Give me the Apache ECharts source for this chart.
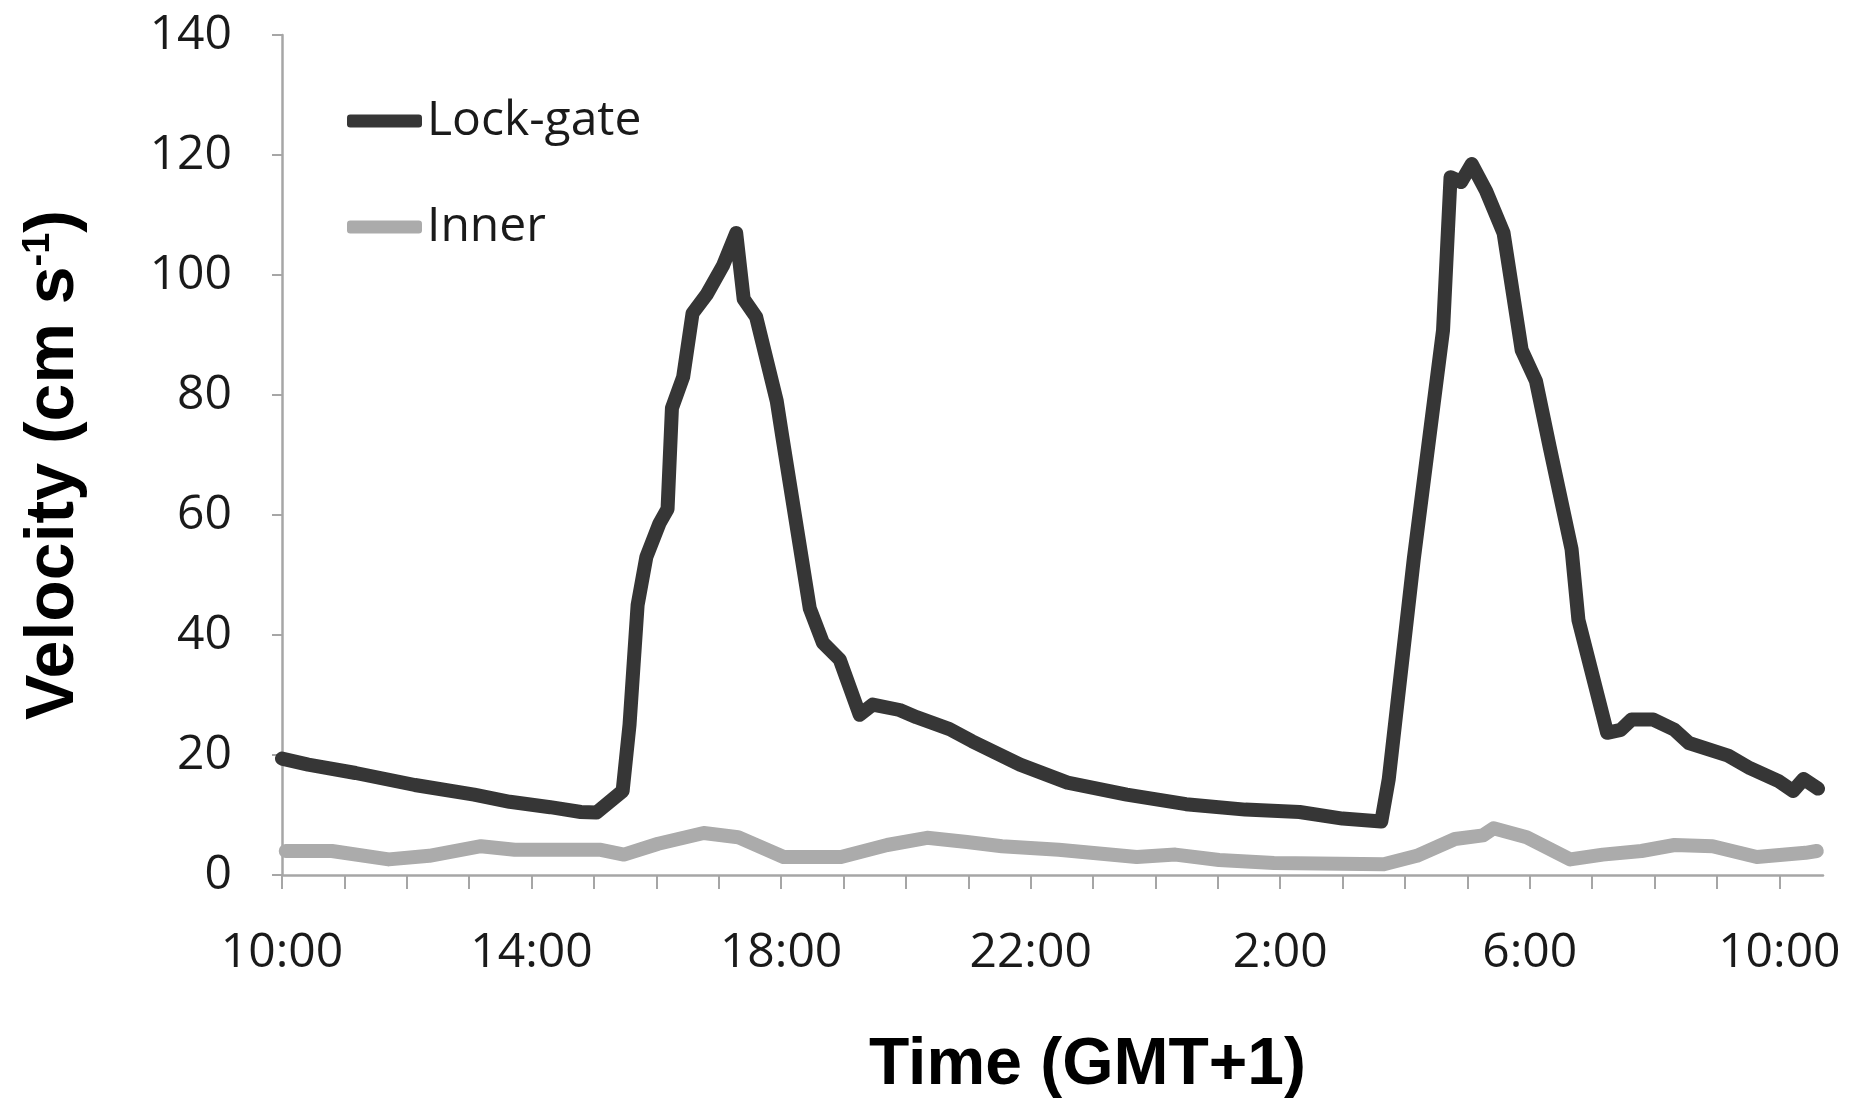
<!DOCTYPE html>
<html>
<head>
<meta charset="utf-8">
<script src="https://cdn.jsdelivr.net/npm/echarts@6/dist/echarts.min.js"></script>
<style>
  html, body { margin: 0; padding: 0; background: #fff; }
  #chart { width: 1860px; height: 1098px; }
</style>
</head>
<body>
<div id="chart"></div>
<script>
// hours elapsed since 10:00 on day 1
var lockHours = [0, 0.42, 1.18, 2.13, 3.08, 3.65, 4.3, 4.79, 5.04, 5.46, 5.57, 5.7, 5.84, 6.05, 6.18, 6.25,
	6.43, 6.58, 6.81, 7.07, 7.28, 7.4, 7.6, 7.93, 8.02, 8.46, 8.67, 8.94, 9.26, 9.47, 9.9, 10.17, 10.7,
	11.06, 11.83, 12.59, 13.54, 14.49, 15.44, 16.31, 17.0, 17.62, 17.74, 18.14, 18.61, 18.73, 18.9,
	19.07, 19.3, 19.58, 19.87, 20.1, 20.32, 20.67, 20.78, 21.24, 21.46, 21.63, 21.98, 22.32, 22.55,
	23.18, 23.53, 23.98, 24.22, 24.39, 24.62];
var lockValues = [19.4, 18.4, 17.0, 15.0, 13.4, 12.2, 11.3, 10.5, 10.4, 14, 25, 45, 53, 58.6, 61, 77.8,
	83, 93.6, 96.8, 101.6, 107, 96, 93, 79, 73, 44.4, 38.7, 35.9, 26.7, 28.4, 27.5, 26.3, 24.3,
	22.3, 18.4, 15.4, 13.4, 11.8, 10.9, 10.5, 9.4, 8.9, 16, 52.6, 90.8, 116.3, 115.5,
	118.5, 114, 107, 87.5, 82.3, 71.3, 54.3, 42.5, 23.7, 24.2, 25.9, 25.9, 24.2, 22,
	19.9, 17.8, 15.7, 14, 16, 14.4];

var innerHours = [0.06, 0.8, 1.71, 2.36, 3.19, 3.73, 5.11, 5.48, 6.03, 6.76, 7.31, 8.04, 8.96, 9.7,
	10.34, 10.98, 11.54, 12.45, 13.7, 14.32, 15.02, 15.9, 17.66, 18.19, 18.8, 19.25, 19.42, 19.95,
	20.65, 21.17, 21.79, 22.32, 22.93, 23.64, 24.42, 24.6];
var innerValues = [4, 4, 2.6, 3.2, 4.8, 4.2, 4.2, 3.4, 5.2, 7.0, 6.3, 3.0, 3.0, 5.0,
	6.2, 5.5, 4.8, 4.2, 3.0, 3.4, 2.5, 2.0, 1.8, 3.2, 6.0, 6.6, 7.8, 6.3,
	2.6, 3.4, 4.0, 5.0, 4.8, 3.0, 3.7, 4.0];

var hourTicks = [];
for (var i = 0; i <= 24; i++) hourTicks.push(i);
var labelTicks = [0, 4, 8, 12, 16, 20, 24];

function pairs(xs, ys) {
	return xs.map(function (x, i) { return [x, ys[i]]; });
}

var chart = echarts.init(document.getElementById('chart'));
var axisGray = '#a6a6a6';
var labelFont = '"Open Sans", sans-serif';
var titleFont = '"Liberation Sans", Arial, sans-serif';

var option = {
	animation: false,
	backgroundColor: '#fff',
	grid: { left: 282, right: 37, top: 35, bottom: 223, outerBoundsMode: 'none' },
	legend: {
		orient: 'vertical',
		left: 342,
		top: 86,
		icon: 'roundRect',
		itemWidth: 75,
		itemHeight: 13,
		itemGap: 46,
		textStyle: { fontFamily: labelFont, fontSize: 48, color: '#1a1a1a', lineHeight: 60 },
		data: ['Lock-gate', 'Inner']
	},
	xAxis: {
		type: 'value',
		min: 0,
		max: 24.7,
		name: 'Time (GMT+1)',
		nameLocation: 'middle',
		nameGap: 158,
		nameTextStyle: { fontFamily: titleFont, fontWeight: 'bold', fontSize: 66, color: '#000', padding: [0, 0, 0, 70] },
		axisLine: { lineStyle: { color: axisGray, width: 2.5 } },
		axisTick: { show: true, customValues: hourTicks, length: 14, lineStyle: { color: axisGray, width: 2 } },
		axisLabel: {
			customValues: labelTicks,
			margin: 54,
			fontFamily: labelFont,
			fontSize: 48,
			color: '#1a1a1a',
			formatter: function (v) { return ((10 + v) % 24) + ':00'; }
		},
		splitLine: { show: false }
	},
	yAxis: {
		type: 'value',
		min: 0,
		max: 140,
		interval: 20,
		name: '{a|Velocity (cm s}{b|-1}{a|)}',
		nameLocation: 'middle',
		nameGap: 194,
		nameTextStyle: {
			padding: [0, 20, 0, 0],
			rich: {
				a: { fontFamily: titleFont, fontWeight: 'bold', fontSize: 68, color: '#000' },
				b: { fontFamily: titleFont, fontWeight: 'bold', fontSize: 38, color: '#000', verticalAlign: 'top' }
			}
		},
		axisLine: { show: true, lineStyle: { color: axisGray, width: 2.5 } },
		axisTick: { show: true, length: 10, lineStyle: { color: axisGray, width: 2 } },
		axisLabel: { margin: 50, fontFamily: labelFont, fontSize: 48, color: '#1a1a1a' },
		splitLine: { show: false }
	},
	series: [
		{
			name: 'Inner',
			type: 'line',
			data: pairs(innerHours, innerValues),
			showSymbol: false,
			symbol: 'none',
			itemStyle: { color: '#ababab' },
			lineStyle: { color: '#ababab', width: 14, cap: 'round', join: 'round' },
			z: 2
		},
		{
			name: 'Lock-gate',
			type: 'line',
			data: pairs(lockHours, lockValues),
			showSymbol: false,
			symbol: 'none',
			itemStyle: { color: '#363636' },
			lineStyle: { color: '#363636', width: 14, cap: 'round', join: 'round' },
			z: 3
		}
	]
};

chart.setOption(option);
</script>
</body>
</html>
